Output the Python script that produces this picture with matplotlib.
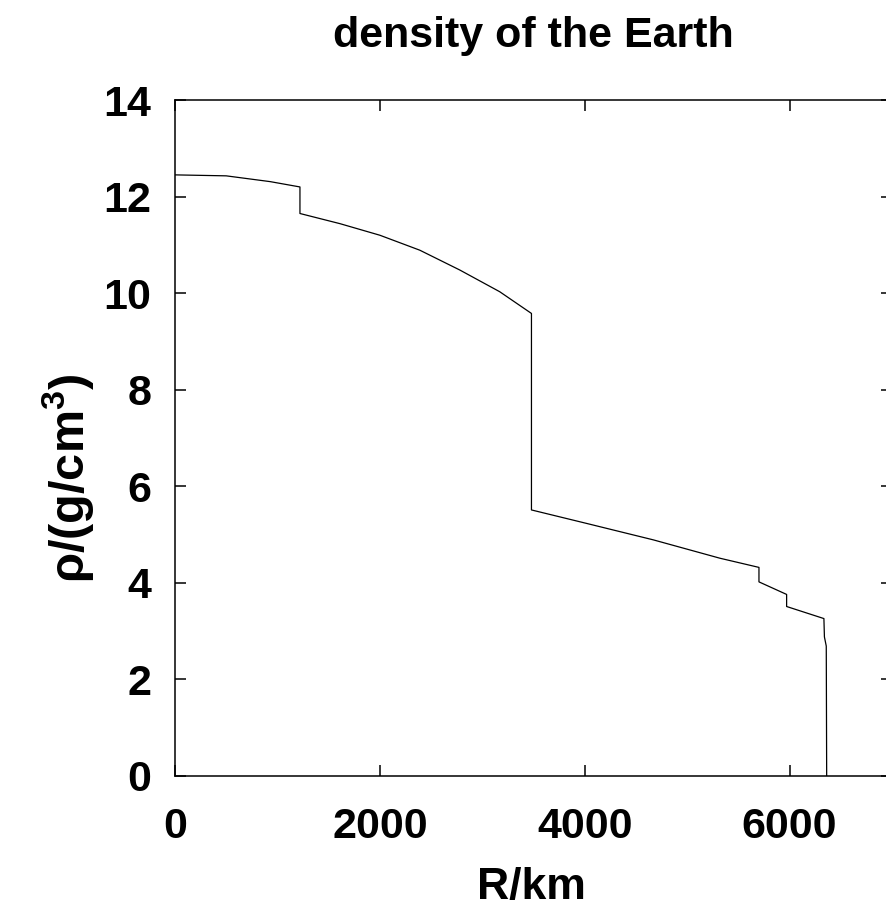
import matplotlib
matplotlib.use("Agg")
import matplotlib.pyplot as plt

# radius (km) and density (g/cm^3)
radius = [0, 500, 930, 1220, 1220, 1610, 2000, 2390, 2780, 3170, 3480,
          3480, 4020, 4670, 5320, 5701, 5701, 5971, 5971, 6335, 6340,
          6358, 6362]
density = [12.45, 12.43, 12.31, 12.20, 11.65, 11.44, 11.20, 10.89, 10.48,
           10.03, 9.58, 5.51, 5.23, 4.89, 4.51, 4.32, 4.02, 3.76, 3.51,
           3.26, 2.88, 2.69, 0.0]

xticks = [0, 2000, 4000, 6000]
yticks = [0, 2, 4, 6, 8, 10, 12, 14]

plt.rcParams['font.family'] = ['Liberation Sans', 'DejaVu Sans']
plt.rcParams['font.weight'] = 'bold'
plt.rcParams['mathtext.fontset'] = 'custom'
plt.rcParams['mathtext.rm'] = 'Liberation Sans:bold'
plt.rcParams['mathtext.bf'] = 'Liberation Sans:bold'
plt.rcParams['mathtext.it'] = 'Liberation Sans'

fig = plt.figure(figsize=(8.86, 9.17), dpi=100)
ax = fig.add_axes([0.1975, 0.1538, 0.8093, 0.7371])

ax.plot(radius, density, color='black', linewidth=0.9)

ax.set_xlim(0, 7000)
ax.set_ylim(0, 14)
ax.set_xticks(xticks)
ax.set_yticks(yticks)

for s in ax.spines.values():
    s.set_linewidth(1.1)
ax.tick_params(axis='both', direction='in', length=8, width=1.1,
               top=True, right=True, labelsize=31)
ax.tick_params(axis='x', pad=22)
ax.tick_params(axis='y', pad=17)
for lab in ax.get_xticklabels() + ax.get_yticklabels():
    lab.set_fontweight('bold')

ax.set_title('density of the Earth', fontsize=31, fontweight='bold', pad=38)
ax.set_xlabel('R/km', fontsize=32, fontweight='bold')
ax.set_ylabel(r'$\rho$/(g/cm$^3$)', fontsize=35, fontweight='bold')
ax.xaxis.set_label_coords(0.497, -0.135)
ax.yaxis.set_label_coords(-0.11, 0.44)

fig.savefig('out.png', dpi=100)
